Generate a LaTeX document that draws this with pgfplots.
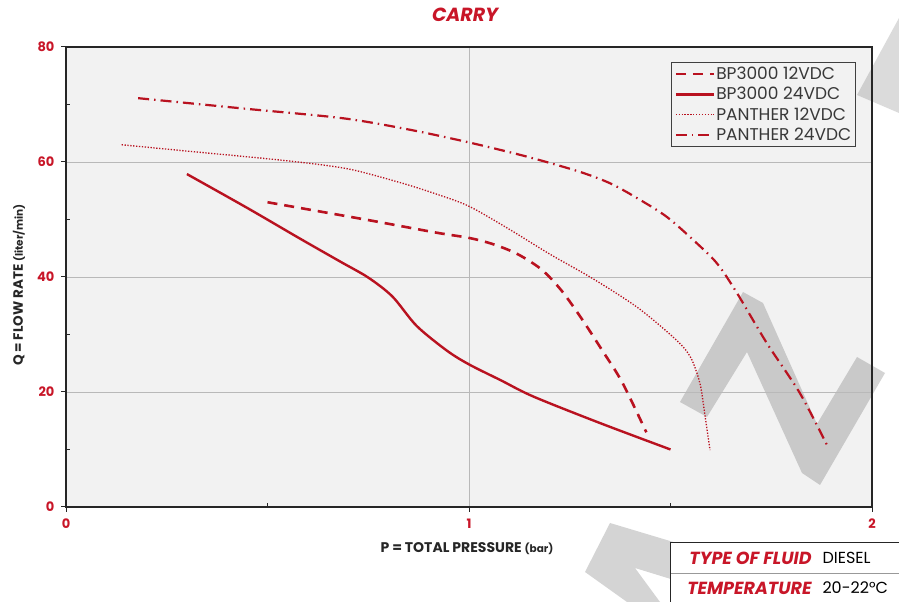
\documentclass[border=0pt]{standalone}
\usepackage{pgfplots}
\pgfplotsset{compat=1.18}
\usepackage{fontspec}
\setmainfont{Poppins}
\definecolor{tickred}{RGB}{200,22,40}
\definecolor{curve}{RGB}{185,18,32}
\begin{document}
\begin{tikzpicture}[x=1pt,y=1pt]
\useasboundingbox (0,0) rectangle (899,602);
% plot background
\fill[gray!10] (66,95) rectangle (872,555);
% watermark (decoration)
\fill[black,opacity=0.17] (680,200) -- (743,310) -- (763,299) -- (817,178) -- (857,245) -- (885,229) -- (820,117) -- (802,129) -- (747,250) -- (707,185) -- cycle;
\fill[black,opacity=0.14] (857,507) -- (899,584) -- (899,489) -- cycle;
\fill[black,opacity=0.17] (610,79) -- (700,52) -- (700,14) -- (635,34) -- (660,0) -- (627,0) -- (585,30) -- cycle;
\begin{axis}[
  at={(66pt,95pt)}, anchor=south west,
  scale only axis, width=806pt, height=460pt,
  xmin=0, xmax=2, ymin=0, ymax=80,
  xtick={0,1,2}, ytick={0,20,40,60,80},
  extra x ticks={0.5,1.5}, extra x tick labels={},
  extra y ticks={10,30,50,70}, extra y tick labels={},
  extra x tick style={grid=none, tick align=inside, major tick length=4pt},
  extra y tick style={grid=none, tick align=inside, major tick length=4pt},
  xtick pos=bottom, ytick pos=left,
  tick align=outside, major tick length=5pt,
  tick style={black!85, line width=1pt},
  grid=major,
  major grid style={gray!55, line width=0.9pt},
  axis line style={black!85, line width=1.3pt},
  /pgf/number format/assume math mode=true,
  ticklabel style={text=tickred, font=\bfseries\fontsize{13}{13}\selectfont},
  yticklabel style={xshift=-3pt},
  xticklabel style={yshift=-3pt},
  legend style={at={(axis description cs:0.7506,0.967)}, anchor=north west,
    draw=black!75, line width=1pt, fill=gray!10, inner sep=3pt,
    font=\fontsize{17}{17}\selectfont, text=black!78,
    row sep=4pt, nodes={inner sep=1.2pt}},
  legend cell align=left,
  legend image code/.code={\draw[#1] (0pt,0pt) -- (38pt,0pt);},
]
\addplot[curve, line width=2.6pt, dash pattern=on 10pt off 7pt, smooth, tension=0.5] coordinates {
 (0.50,53.0) (0.75,49.9) (0.92,47.7) (1.00,46.8) (1.06,45.7) (1.12,44.0)
 (1.18,41.3) (1.23,37.6) (1.28,32.7) (1.33,27.3) (1.38,21.7) (1.44,13.0)};
\addlegendentry{BP3000 12VDC}
\addplot[curve, line width=2.4pt, smooth, tension=0.5] coordinates {
 (0.30,57.9) (0.45,52.0) (0.58,46.7) (0.68,42.7) (0.75,39.9) (0.81,36.6)
 (0.87,31.5) (0.945,27.2) (1.00,24.8) (1.08,22.0) (1.16,19.2) (1.325,14.6) (1.50,10.0)};
\addlegendentry{BP3000 24VDC}
\addplot[curve, line width=1.3pt, dash pattern=on 1.3pt off 1.6pt, smooth, tension=0.5] coordinates {
 (0.138,63.0) (0.30,61.9) (0.55,60.2) (0.70,58.8) (0.83,56.4) (0.92,54.4)
 (1.00,52.3) (1.10,48.3) (1.20,44.0) (1.31,39.6) (1.42,34.6) (1.515,29.0)
 (1.55,26.0) (1.573,21.5) (1.586,15.7) (1.598,9.9)};
\addlegendentry{PANTHER 12VDC}
\addplot[curve, line width=2.2pt, dash pattern=on 11pt off 5pt on 1.5pt off 5pt, smooth, tension=0.5] coordinates {
 (0.179,71.1) (0.44,69.3) (0.688,67.6) (0.854,65.6) (1.00,63.4) (1.14,61.0)
 (1.27,58.4) (1.35,56.3) (1.42,53.6) (1.49,50.5) (1.557,46.4) (1.615,42.4)
 (1.665,37.2) (1.739,28.5) (1.821,19.8) (1.891,10.4)};
\addlegendentry{PANTHER 24VDC}
\end{axis}
% title and axis labels
\node[text=tickred, font=\bfseries\itshape\fontsize{19}{19}\selectfont] at (465,587) {CARRY};
\node[font=\bfseries\fontsize{14}{14}\selectfont, text=black!85] at (467,53) {P = TOTAL PRESSURE {\fontsize{10.5}{10.5}\selectfont(bar)}};
\node[rotate=90, font=\bfseries\fontsize{13.5}{13.5}\selectfont, text=black!85] at (19,317) {Q = FLOW RATE {\fontsize{10.5}{10.5}\selectfont(liter/min)}};
% info box
\fill[white] (670,0) rectangle (899,59);
\draw[black!40, line width=0.8pt] (670,29) -- (899,29);
\draw[black!85, line width=1pt] (670,0) -- (670,59) -- (899,59);
\node[anchor=east, text=tickred, font=\bfseries\itshape\fontsize{17.5}{17.5}\selectfont] at (815,44) {TYPE OF FLUID};
\node[anchor=west, font=\fontsize{16}{16}\selectfont] at (819,44) {DIESEL};
\node[anchor=east, text=tickred, font=\bfseries\itshape\fontsize{17.5}{17.5}\selectfont] at (815,14) {TEMPERATURE};
\node[anchor=west, font=\fontsize{16}{16}\selectfont] at (819,14) {20-22°C};
\end{tikzpicture}
\end{document}
